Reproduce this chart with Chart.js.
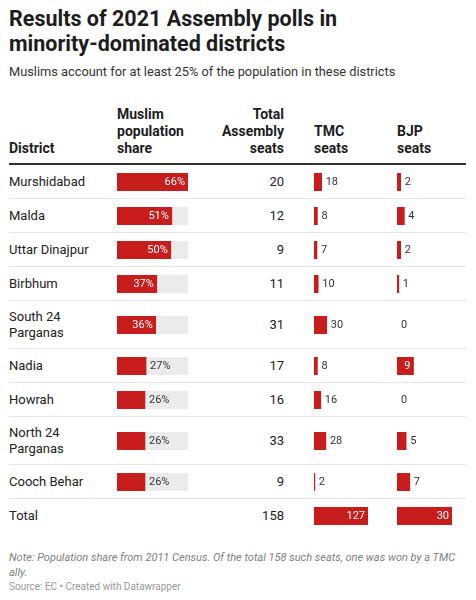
<!DOCTYPE html>
<html>
<head>
<meta charset="utf-8">
<script src="https://cdn.jsdelivr.net/npm/chart.js@4"></script>
<style>
  body { margin: 0; background: #fff; font-family: Roboto, sans-serif; color: #222; }
  #wrap { position: relative; width: 476px; height: 600px; }
  h1 { position: absolute; left: 9px; top: 6px; margin: 0; font-size: 21.5px; line-height: 25px; font-weight: 700; color: #1d1d1d; width: 420px; }
  .sub { position: absolute; left: 9px; top: 64px; font-size: 12.8px; color: #333; }
  table { position: absolute; left: 9px; top: 106px; width: 457px; border-collapse: collapse; table-layout: fixed; font-size: 13px; }
  th { font-weight: 700; font-size: 14px; text-align: left; vertical-align: bottom; line-height: 17px; padding: 0 0 6px 0; color: #1d1d1d; border-bottom: 2px solid #333; }
  td { padding: 0; vertical-align: middle; border-bottom: 1px solid #e6e6e6; line-height: 16px; }
  tr.r1 td { height: 33px; }
  tr.r2 td { height: 47px; }
  tr.tot td { height: 34px; border-bottom: none; }
  .num { text-align: right; }
  .pad { padding-left: 30px; }
  th.pad { padding-left: 30px; }
  canvas { display: block; }
  .note { position: absolute; left: 9px; top: 550px; width: 455px; font-size: 11px; line-height: 15px; font-style: italic; color: #808080; }
  .src { position: absolute; left: 9px; top: 581px; font-size: 10px; color: #999; }
</style>
</head>
<body>
<div id="wrap">
  <h1>Results of 2021 Assembly polls in minority-dominated districts</h1>
  <div class="sub">Muslims account for at least 25% of the population in these districts</div>
  <table id="tbl">
    <colgroup>
      <col style="width:108px"><col style="width:83px"><col style="width:84px"><col style="width:113px"><col style="width:69px">
    </colgroup>
    <thead>
      <tr>
        <th>District</th>
        <th>Muslim<br>population<br>share</th>
        <th class="num">Total<br>Assembly<br>seats</th>
        <th class="pad">TMC<br>seats</th>
        <th>BJP<br>seats</th>
      </tr>
    </thead>
    <tbody id="rows"></tbody>
  </table>
  <div class="note">Note: Population share from 2011 Census. Of the total 158 such seats, one was won by a TMC ally.</div>
  <div class="src">Source: EC • Created with Datawrapper</div>
</div>
<script>
var districts = ["Murshidabad", "Malda", "Uttar Dinajpur", "Birbhum", "South 24 Parganas", "Nadia", "Howrah", "North 24 Parganas", "Cooch Behar"];
var muslimShare = [66, 51, 50, 37, 36, 27, 26, 26, 26];
var totalSeats = [20, 12, 9, 11, 31, 17, 16, 33, 9];
var tmcSeats = [18, 8, 7, 10, 30, 8, 16, 28, 2];
var bjpSeats = [2, 4, 2, 1, 0, 9, 0, 5, 7];
var totalLabel = "Total";
var totalAll = 158;
var totalTmc = 127;
var totalBjp = 30;

var RED = "#c71e1d";
var twoLine = ["South 24 Parganas", "North 24 Parganas"];

// value label: inside the bar in white if it fits, else after it
var valueLabels = {
  id: "valueLabels",
  afterDatasetsDraw: function(chart) {
    var ctx = chart.ctx;
    var o = chart.options.plugins.valueLabels;
    var el = chart.getDatasetMeta(0).data[0];
    var v = chart.data.datasets[0].data[0];
    var txt = v + (o.suffix || "");
    ctx.save();
    ctx.font = "11px Roboto, sans-serif";
    ctx.textBaseline = "middle";
    var tw = ctx.measureText(txt).width;
    var w = el.x - el.base;
    if (w > tw + 9.5) {
      ctx.fillStyle = "#fff";
      ctx.textAlign = "right";
      ctx.fillText(txt, el.x - 3, el.y + 0.5);
    } else {
      ctx.fillStyle = "#333";
      ctx.textAlign = "left";
      ctx.fillText(txt, el.x + 4, el.y + 0.5);
    }
    ctx.restore();
  }
};

var track = {
  id: "track",
  beforeDatasetsDraw: function(chart) {
    if (!chart.options.plugins.track.show) return;
    var a = chart.chartArea;
    chart.ctx.save();
    chart.ctx.fillStyle = "#ebebeb";
    chart.ctx.fillRect(a.left, a.top, a.right - a.left, a.bottom - a.top);
    chart.ctx.restore();
  }
};

function cellChart(td, value, max, width, padRight, suffix, showTrack) {
  var c = document.createElement("canvas");
  c.width = width;
  c.height = 18;
  c.style.width = width + "px";
  c.style.height = "18px";
  td.appendChild(c);
  new Chart(c, {
    type: "bar",
    data: {
      labels: [""],
      datasets: [{
        data: [value],
        backgroundColor: value > 0 ? RED : "rgba(0,0,0,0)",
        borderWidth: 0,
        barPercentage: 1,
        categoryPercentage: 1
      }]
    },
    options: {
      indexAxis: "y",
      responsive: false,
      animation: false,
      layout: { padding: { left: 0, right: padRight, top: 0, bottom: 0 } },
      scales: {
        x: { display: false, min: 0, max: max },
        y: { display: false }
      },
      plugins: {
        legend: { display: false },
        tooltip: { enabled: false },
        valueLabels: { suffix: suffix },
        track: { show: showTrack }
      }
    },
    plugins: [track, valueLabels]
  });
}

var maxShare = Math.max.apply(null, muslimShare);
var maxTmc = Math.max(totalTmc, Math.max.apply(null, tmcSeats));
var maxBjp = Math.max(totalBjp, Math.max.apply(null, bjpSeats));

function addRow(name, share, total, tmc, bjp, cls) {
  var tr = document.createElement("tr");
  tr.className = cls;
  var td1 = document.createElement("td");
  td1.textContent = name;
  var td2 = document.createElement("td");
  var td3 = document.createElement("td");
  td3.className = "num";
  td3.textContent = total;
  var td4 = document.createElement("td");
  td4.className = "pad";
  var td5 = document.createElement("td");
  [td1, td2, td3, td4, td5].forEach(function(t) { tr.appendChild(t); });
  document.getElementById("rows").appendChild(tr);
  if (share !== null) cellChart(td2, share, maxShare, 71, 0, "%", true);
  cellChart(td4, tmc, maxTmc, 76, 22, "", false);
  cellChart(td5, bjp, maxBjp, 69, 14, "", false);
}

for (var i = 0; i < districts.length; i++) {
  addRow(districts[i], muslimShare[i], totalSeats[i], tmcSeats[i], bjpSeats[i],
    twoLine.indexOf(districts[i]) >= 0 ? "r2" : "r1");
}
addRow(totalLabel, null, totalAll, totalTmc, totalBjp, "tot");
</script>
</body>
</html>
